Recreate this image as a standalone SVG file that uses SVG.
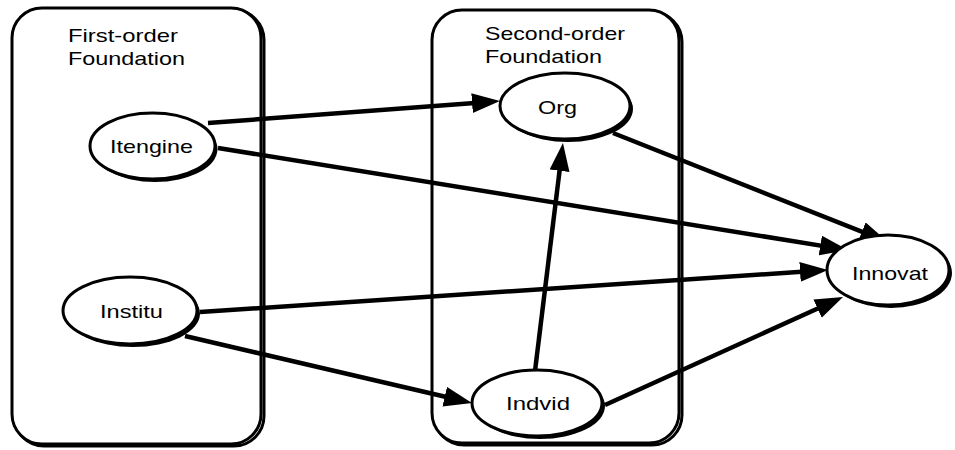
<svg xmlns="http://www.w3.org/2000/svg" width="955" height="450" viewBox="0 0 955 450">
  <style>
    .frame { fill: #fff; stroke: #000; stroke-width: 3; }
    .frame-shadow { fill: none; stroke: #000; stroke-width: 3; }
    .node { fill: #fff; stroke: #000; stroke-width: 3; }
    .node-shadow { fill: #000; }
    .edge { stroke: #000; stroke-width: 4.5; fill: none; marker-end: url(#arrow); }
    text { font-family: "Liberation Sans", Arial, sans-serif; font-size: 19px; fill: #000; }
  </style>
  <defs>
    <marker id="arrow" markerUnits="userSpaceOnUse" markerWidth="30" markerHeight="22" refX="16" refY="10" orient="auto">
      <path d="M0,0 L28,10 L0,20 z" fill="#000"/>
    </marker>
  </defs>
  <rect width="955" height="450" fill="#fff"/>

  <!-- grouping frames -->
  <g id="first-order">
    <rect class="frame-shadow" x="14" y="10" width="250" height="436" rx="30"/>
    <rect class="frame" x="12" y="8" width="249" height="436" rx="30"/>
    <text x="68" y="42" textLength="110" lengthAdjust="spacingAndGlyphs">First-order</text>
    <text x="68" y="65" textLength="117" lengthAdjust="spacingAndGlyphs">Foundation</text>
  </g>
  <g id="second-order">
    <rect class="frame-shadow" x="434" y="12" width="248" height="433" rx="30"/>
    <rect class="frame" x="432" y="10" width="247" height="433" rx="30"/>
    <text x="485" y="40" textLength="140" lengthAdjust="spacingAndGlyphs">Second-order</text>
    <text x="485" y="63" textLength="117" lengthAdjust="spacingAndGlyphs">Foundation</text>
  </g>

  <!-- connectors -->
  <g id="connectors">
    <line class="edge" x1="208" y1="123" x2="488" y2="101.9"/>
    <line class="edge" x1="218" y1="148" x2="836.1" y2="248.1"/>
    <line class="edge" x1="613" y1="133" x2="876.8" y2="237.6"/>
    <line class="edge" x1="200" y1="312" x2="816" y2="270.8"/>
    <line class="edge" x1="185" y1="336" x2="460.3" y2="400.3"/>
    <line class="edge" x1="535" y1="371" x2="561.5" y2="154.9"/>
    <line class="edge" x1="605" y1="405" x2="832.1" y2="302"/>
  </g>

  <!-- nodes -->
  <g id="itengine">
    <ellipse class="node-shadow" cx="155" cy="149" rx="62.5" ry="33"/>
    <ellipse class="node" cx="152.5" cy="146" rx="62.5" ry="33"/>
    <text x="110" y="153" textLength="83" lengthAdjust="spacingAndGlyphs">Itengine</text>
  </g>
  <g id="institu">
    <ellipse class="node-shadow" cx="133" cy="313.5" rx="67" ry="33.5"/>
    <ellipse class="node" cx="130" cy="310.5" rx="67" ry="33.5"/>
    <text x="100" y="318" textLength="63" lengthAdjust="spacingAndGlyphs">Institu</text>
  </g>
  <g id="org">
    <ellipse class="node-shadow" cx="568" cy="109" rx="65" ry="33"/>
    <ellipse class="node" cx="565" cy="106" rx="65" ry="33"/>
    <text x="538" y="114" textLength="39" lengthAdjust="spacingAndGlyphs">Org</text>
  </g>
  <g id="indvid">
    <ellipse class="node-shadow" cx="540" cy="406" rx="65" ry="33"/>
    <ellipse class="node" cx="537" cy="403" rx="65" ry="33"/>
    <text x="506" y="410" textLength="64" lengthAdjust="spacingAndGlyphs">Indvid</text>
  </g>
  <g id="innovat">
    <ellipse class="node-shadow" cx="891" cy="273" rx="61" ry="35"/>
    <ellipse class="node" cx="888" cy="270" rx="61" ry="35"/>
    <text x="852" y="280" textLength="76" lengthAdjust="spacingAndGlyphs">Innovat</text>
  </g>
</svg>
